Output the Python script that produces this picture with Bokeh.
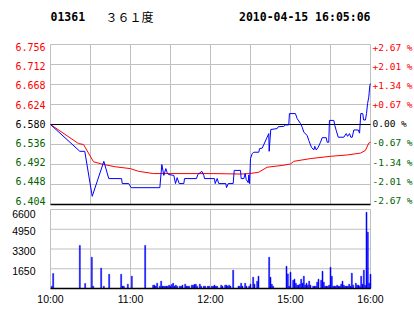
from bokeh.plotting import figure
from bokeh.models import Range1d
from bokeh.core.properties import value
from bokeh.embed import file_html
from bokeh.resources import INLINE

CODE = "01361"
NAME = "３６１度"
STAMP = "2010-04-15 16:05:06"
PREV_CLOSE = 6.580
PRICE_TICKS = [6.404, 6.448, 6.492, 6.536, 6.580, 6.624, 6.668, 6.712, 6.756]
TIME_TICKS = [0, 60, 120, 180, 240]
TIME_LABELS = ["10:00", "11:00", "12:00", "15:00", "16:00"]
GRID_MINUTES = [0, 30, 60, 90, 120, 150, 180, 210, 240]
VOL_TICKS = [1650, 3300, 4950, 6600]

PRICE_T = [0, 22, 25.7, 31.3, 40, 43.7, 53.3, 53.8, 58.7, 60.5, 82, 83.5, 85, 86.5, 87.5, 88.5,
           92.5, 93.75, 95, 96.5, 100, 100.5, 109.5, 110.5, 113.5, 115, 115.5, 123, 123.5, 125,
           126.2, 131.5, 132, 133.3, 137, 137.8, 142.5, 143, 145, 146, 146.8, 148.3, 148.7, 149.3,
           150, 151.3, 152.5, 156.2, 156.8, 158.8, 163.7, 164, 165.2, 170, 170.8, 175, 176.2,
           178.7, 179.2, 183.7, 185, 187.5, 188.8, 190, 192.5, 193.7, 195.7, 197.5, 198.2, 199.3,
           200.8, 202.5, 203.8, 206.8, 207.5, 208.7, 209.2, 212.5, 213.2, 214.3, 215.8, 220,
           221.8, 222.8, 224.3, 225.2, 226.3, 227.5, 230.8, 231.8, 232.7, 234.2, 234.8, 236.2,
           237, 237.8, 238.7, 239.5, 240]
PRICE_V = [6.580, 6.521, 6.521, 6.422, 6.499, 6.461, 6.461, 6.450, 6.450, 6.441, 6.441, 6.492,
           6.468, 6.483, 6.474, 6.470, 6.468, 6.450, 6.463, 6.450, 6.450, 6.461, 6.461, 6.470,
           6.477, 6.468, 6.461, 6.461, 6.450, 6.461, 6.450, 6.450, 6.441, 6.450, 6.450, 6.479,
           6.479, 6.461, 6.461, 6.472, 6.459, 6.452, 6.469, 6.450, 6.505, 6.516, 6.519, 6.519,
           6.527, 6.528, 6.560, 6.521, 6.569, 6.571, 6.575, 6.576, 6.579, 6.579, 6.604, 6.604,
           6.593, 6.582, 6.574, 6.563, 6.556, 6.545, 6.530, 6.524, 6.532, 6.524, 6.530, 6.541,
           6.551, 6.551, 6.541, 6.541, 6.589, 6.589, 6.578, 6.567, 6.552, 6.552, 6.560, 6.554,
           6.560, 6.552, 6.552, 6.568, 6.568, 6.561, 6.604, 6.604, 6.590, 6.590, 6.604, 6.626,
           6.640, 6.666, 6.670]

AVG_T = [0, 21, 24.75, 32.25, 38.5, 48.5, 59.8, 66, 77.25, 122, 142.5, 149.25, 156.2, 162.5,
         173.8, 180, 182.5, 195, 210, 222.5, 232.5, 236.2, 238.7, 240]
AVG_V = [6.580, 6.538, 6.536, 6.498, 6.493, 6.487, 6.483, 6.477, 6.472, 6.472, 6.471, 6.472,
         6.475, 6.486, 6.490, 6.493, 6.499, 6.505, 6.510, 6.513, 6.517, 6.523, 6.539, 6.541]

VOL_T = [1, 2, 22, 26, 31, 32, 38, 40, 44, 53, 54, 55, 58, 61, 71, 77, 78, 79, 80, 82, 83, 84,
         85, 86, 87, 88, 89, 90, 91, 92, 93, 94, 95, 97, 98, 99, 101, 102, 103, 104, 106, 107,
         108, 109, 110, 112, 113, 115, 116, 118, 119, 121, 122, 123, 124, 125, 128, 129, 131,
         132, 133, 134, 135, 137, 141, 142, 143, 144, 146, 147, 149, 150, 152, 153, 155, 156,
         164, 165, 166, 167, 177, 178, 179, 180, 182, 183, 184, 185, 186, 187, 188, 189, 190,
         191, 192, 193, 194, 195, 197, 198, 199, 200, 201, 203, 204, 205, 206, 207, 208, 209,
         210, 211, 212, 213, 214, 215, 216, 217, 218, 219, 220, 221, 222, 223, 224, 225, 226,
         227, 229, 230, 231, 232, 233, 234, 235, 236, 237, 238, 239, 240]
VOL_V = [190, 1250, 3600, 420, 2610, 190, 1700, 190, 1190, 1190, 190, 190, 360, 1030, 3600, 280,
         280, 190, 440, 190, 610, 190, 190, 190, 190, 190, 280, 190, 330, 440, 190, 280, 190, 190,
         190, 280, 360, 190, 190, 190, 280, 280, 330, 360, 190, 360, 190, 190, 190, 190, 190, 190,
         190, 280, 190, 190, 280, 190, 280, 280, 190, 280, 190, 1530, 190, 190, 440, 190, 440,
         190, 190, 360, 940, 360, 610, 1030, 2610, 940, 360, 190, 1860, 1220, 190, 1360, 690,
         780, 440, 280, 280, 360, 780, 440, 1030, 280, 440, 280, 610, 280, 190, 190, 190, 530,
         780, 690, 1440, 530, 190, 190, 190, 280, 1780, 1030, 190, 190, 190, 280, 190, 190, 360,
         610, 280, 190, 190, 190, 360, 190, 1280, 280, 440, 280, 280, 190, 1030, 360, 1530, 280,
         6370, 4700, 440, 1190]

GRID = "#c0c0c0"
UP = "#ff0000"
DOWN = "#006400"
MONO = "DejaVu Sans Mono"
SANS = "Liberation Sans"

# ---- page geometry (pixels) ----
W, H = 414, 314
LEFT, PLOT_W = 50, 320          # panels start at x=50, 320 px for the 240 trading minutes
PRICE_TOP_Y = 44                # row of the highest price tick
VOL_TOP_Y, VOL_ZERO_Y = 209, 288
PRICE_LABEL_TOP, PRICE_LABEL_BOTTOM = 46.5, 200.0   # labels are squeezed inside the panel
VOL_LABEL_SHIFT = 2.0

MIN_PER_PX = (TIME_TICKS[-1] - TIME_TICKS[0]) / PLOT_W
PRICE_PER_PX = (PRICE_TICKS[1] - PRICE_TICKS[0]) / 20.0
VOL_PER_PX = VOL_TICKS[-1] / (VOL_ZERO_Y - VOL_TOP_Y)

x_start = TIME_TICKS[0] - LEFT * MIN_PER_PX
x_end = x_start + W * MIN_PER_PX
y_end = PRICE_TICKS[-1] + PRICE_TOP_Y * PRICE_PER_PX
y_start = y_end - H * PRICE_PER_PX
v_end = VOL_ZERO_Y * VOL_PER_PX
v_start = v_end - H * VOL_PER_PX


def tx(px):
    return x_start + px * MIN_PER_PX


def py(px):
    return y_end - px * PRICE_PER_PX


def vy(px):
    return v_end - px * VOL_PER_PX


p = figure(width=W, height=H, x_range=Range1d(x_start, x_end),
           y_range=Range1d(y_start, y_end), x_axis_type=None, y_axis_type=None,
           toolbar_location=None, output_backend="svg", min_border=0,
           min_border_left=0, min_border_right=0, min_border_top=0, min_border_bottom=0,
           background_fill_color="white", border_fill_color="white")
p.outline_line_color = None
p.extra_y_ranges = {"vol": Range1d(v_start, v_end)}

t0, t1 = TIME_TICKS[0], TIME_TICKS[-1]
lo, hi = PRICE_TICKS[0], PRICE_TICKS[-1]
ng, npt, nv = len(GRID_MINUTES), len(PRICE_TICKS), len(VOL_TICKS)

# ---------------- price panel ----------------
p.segment(x0=GRID_MINUTES, y0=[lo] * ng, x1=GRID_MINUTES, y1=[hi] * ng,
          line_color=GRID, line_width=1)
p.segment(x0=[t0] * npt, y0=PRICE_TICKS, x1=[t1] * npt, y1=PRICE_TICKS,
          line_color=GRID, line_width=1)
p.segment(x0=[t0, t0], y0=[PREV_CLOSE, lo], x1=[t1, t1], y1=[PREV_CLOSE, lo],
          line_color="black", line_width=[1, 1.5])

p.line(AVG_T, AVG_V, line_color="#ff0000", line_width=1)
p.line(PRICE_T, PRICE_V, line_color="#0000ff", line_width=1)

colors, pct_txt, label_y = [], [], []
for v in PRICE_TICKS:
    if v > PREV_CLOSE + 1e-9:
        colors.append(UP)
    elif v < PREV_CLOSE - 1e-9:
        colors.append(DOWN)
    else:
        colors.append("black")
    pct = (v - PREV_CLOSE) / PREV_CLOSE * 100
    pct_txt.append(" 0.00 %" if abs(pct) < 1e-9 else f"{pct:+.2f} %")
    frac = (hi - v) / (hi - lo)
    label_y.append(py(PRICE_LABEL_TOP + frac * (PRICE_LABEL_BOTTOM - PRICE_LABEL_TOP)))

p.text(x=[tx(45)] * npt, y=label_y, text=[f"{v:.3f}" for v in PRICE_TICKS],
       text_align="right", text_baseline="middle", text_font=value(MONO),
       text_font_size="10px", text_color=colors)
p.text(x=[tx(372)] * npt, y=label_y, text=pct_txt,
       text_align="left", text_baseline="middle", text_font=value(MONO),
       text_font_size="9.5px", text_color=colors)

# title strip
p.text(x=[tx(50), tx(370)], y=[py(16)] * 2, text=[CODE, STAMP], text_align=["left", "right"],
       text_baseline="middle", text_font=value(MONO), text_font_size="11.5px",
       text_font_style="bold", text_color="black")
p.text(x=[tx(105)], y=[py(15.5)], text=[NAME], text_align="left", text_baseline="middle",
       text_font=value("Noto Sans CJK SC"), text_font_size="12px", text_color="black")

# ---------------- volume panel ----------------
vtop = VOL_TICKS[-1]
p.segment(x0=GRID_MINUTES, y0=[0] * ng, x1=GRID_MINUTES, y1=[vtop] * ng,
          line_color=GRID, line_width=1, y_range_name="vol")
p.segment(x0=[t0] * nv, y0=VOL_TICKS, x1=[t1] * nv, y1=VOL_TICKS,
          line_color=GRID, line_width=1, y_range_name="vol")
p.vbar(x=VOL_T, top=VOL_V, bottom=0, width=0.75, fill_color="#0000ff", line_color="#0000ff",
       line_width=0.5, y_range_name="vol")
p.segment(x0=[t0], y0=[0], x1=[t1], y1=[0], line_color="black", line_width=1.5,
          y_range_name="vol")

vol_label_y = [v - VOL_LABEL_SHIFT * VOL_PER_PX for v in VOL_TICKS]
vol_label_y[-1] = vtop - 4 * VOL_PER_PX
p.text(x=[tx(35)] * nv, y=vol_label_y, text=[str(v) for v in VOL_TICKS], text_align="right",
       text_baseline="middle", text_font=value(SANS), text_font_size="10.5px",
       text_color="black", y_range_name="vol")
p.text(x=TIME_TICKS, y=[vy(298)] * len(TIME_TICKS), text=TIME_LABELS, text_align="center",
       text_baseline="middle", text_font=value(SANS), text_font_size="10.5px",
       text_color="black", y_range_name="vol")

with open("out.html", "w") as f:
    f.write(file_html(p, INLINE))
